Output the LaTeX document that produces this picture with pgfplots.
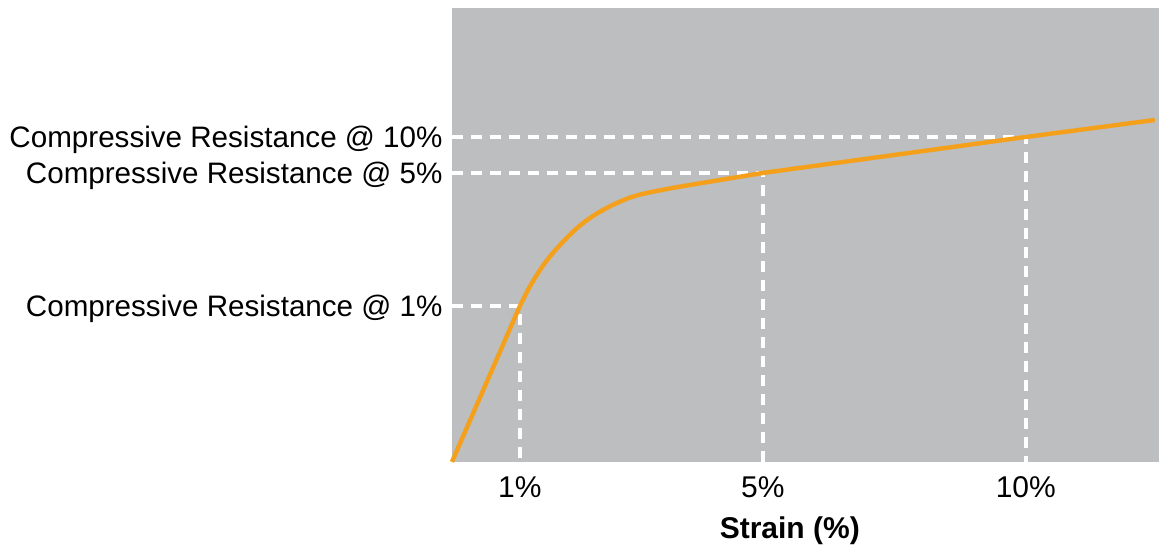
\documentclass[border=0pt]{standalone}
\usepackage{pgfplots}
\pgfplotsset{compat=1.18}
\usepackage{fontspec}
\setmainfont{Liberation Sans}
\definecolor{plotgray}{RGB}{189,190,192}
\definecolor{curveorange}{RGB}{245,160,27}
\begin{document}
\begin{tikzpicture}
\begin{axis}[
  scale only axis,
  width=353.5pt, height=227pt,
  xmin=0, xmax=707, ymin=0, ymax=454,
  axis background/.style={fill=plotgray},
  axis line style={draw=none},
  major tick length=0pt,
  clip=false,
  xtick={68,311,574},
  xticklabels={1\%,5\%,10\%},
  ytick={156,289,325},
  yticklabels={Compressive Resistance @ 1\%,Compressive Resistance @ 5\%,Compressive Resistance @ 10\%},
  yticklabel style={font=\fontsize{14.8}{17}\selectfont, anchor=base east, inner sep=0pt, xshift=-4.5pt, yshift=-5.2pt},
  xticklabel style={font=\fontsize{15}{17}\selectfont, anchor=base, inner sep=0pt, yshift=-18pt},
  xlabel={Strain (\%)},
  xlabel style={font=\fontsize{15}{17}\selectfont\bfseries, at={(axis description cs:0.478,0)}, anchor=base, inner sep=0pt, yshift=-38.5pt},
  dashline/.style={white, line width=2pt, dash pattern=on 5.5pt off 4pt},
]
% guide lines from the axes to the curve
\addplot[dashline] coordinates {(0,156) (68,156) (68,0)};
\addplot[dashline] coordinates {(0,289) (311,289) (311,0)};
\addplot[dashline] coordinates {(0,325) (574,325) (574,0)};
% stress-strain curve
\addplot[curveorange, line width=2.2pt] coordinates {
  (0,0) (68,156)
};
\addplot[curveorange, line width=2.2pt, smooth, tension=0.6] coordinates {
  (68,156) (74,168) (80,179) (93,199) (110,219) (130,238) (153,253) (180,265) (210,272) (250,279)
};
\addplot[curveorange, line width=2.2pt] coordinates {
  (250,279) (311,289) (574,325) (703,342)
};
\path (axis cs:-452,-82) rectangle (axis cs:707,462);
\end{axis}
\end{tikzpicture}
\end{document}
